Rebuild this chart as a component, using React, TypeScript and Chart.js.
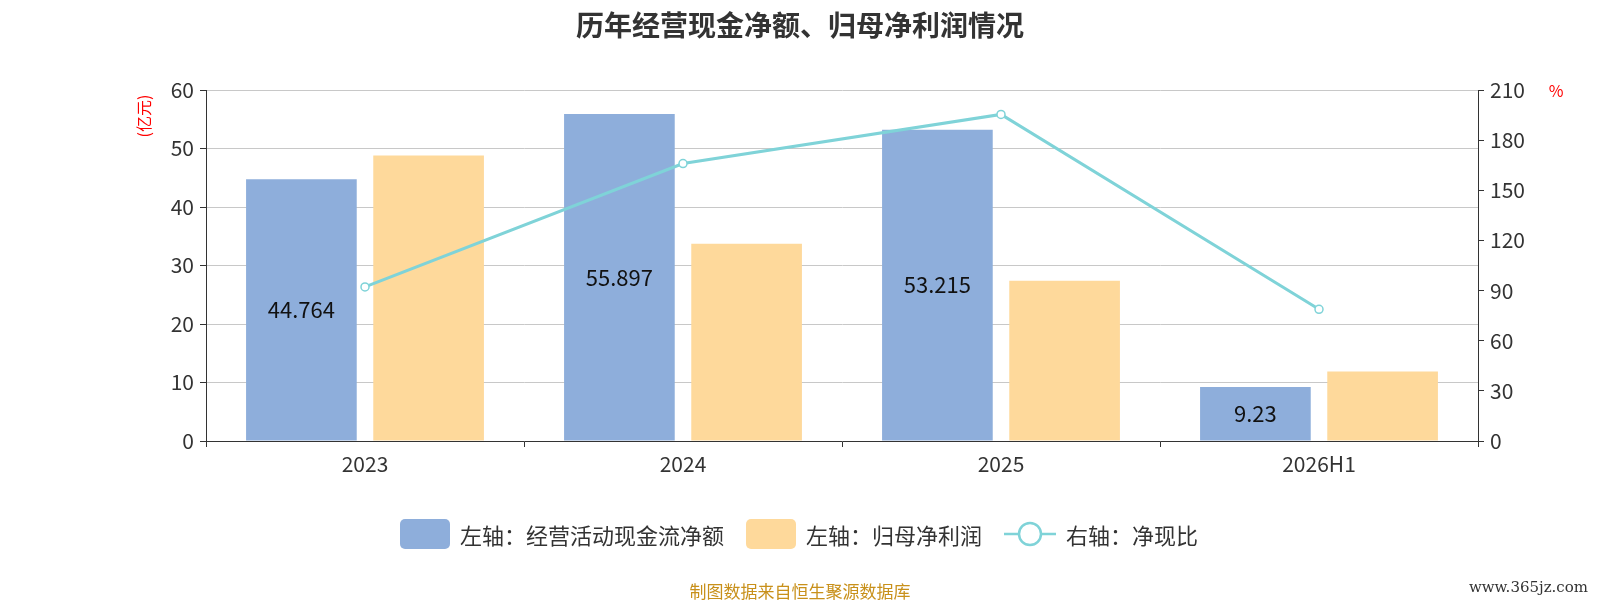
import React, { useEffect, useRef } from "react";
import { Chart, registerables } from "chart.js";
Chart.register(...registerables);

const categories = ["2023", "2024", "2025", "2026H1"];
const cashFlow = [44.764, 55.897, 53.215, 9.23];
const netProfit = [48.8, 33.7, 27.4, 11.9];
const ratio = [92.2, 166, 195.4, 78.8];
const leftTicks = [0, 10, 20, 30, 40, 50, 60];
const rightTicks = [0, 30, 60, 90, 120, 150, 180, 210];

const FONT = "'Noto Sans CJK SC', 'Noto Sans', sans-serif";
const BLUE = "#8eaedb";
const ORANGE = "#fed99b";
const TEAL = "#7fd3d8";

export default function App() {
  const ref = useRef<HTMLCanvasElement>(null);
  useEffect(() => {
    const labelsPlugin = {
      id: "extras",
      afterDatasetsDraw(chart: any) {
        const ctx = chart.ctx;
        const meta = chart.getDatasetMeta(0);
        ctx.save();
        ctx.font = `22px ${FONT}`;
        ctx.fillStyle = "#111";
        ctx.textAlign = "center";
        ctx.textBaseline = "middle";
        meta.data.forEach((b: any, i: number) => {
          ctx.fillText(String(cashFlow[i]), b.x, (b.y + b.base) / 2);
        });
        ctx.fillStyle = "red";
        ctx.font = `16px ${FONT}`;
        ctx.fillText("%", 1556, 91);
        ctx.translate(144, 116);
        ctx.rotate(-Math.PI / 2);
        ctx.fillText("(亿元)", 0, 0);
        ctx.restore();
      },
    };
    const chart = new Chart(ref.current!, {
      type: "bar",
      data: {
        labels: categories,
        datasets: [
          { type: "bar", data: cashFlow, backgroundColor: BLUE, yAxisID: "y", order: 2 },
          { type: "bar", data: netProfit, backgroundColor: ORANGE, yAxisID: "y", order: 2 },
          {
            type: "line", data: ratio, yAxisID: "y1", borderColor: TEAL, borderWidth: 3,
            pointBackgroundColor: "#fff", pointBorderColor: TEAL, pointBorderWidth: 1.5,
            pointRadius: 4, order: 1,
          } as any,
        ],
      },
      plugins: [labelsPlugin],
      options: {
        animation: false,
        responsive: false,
        layout: { padding: { top: 90, left: 0, right: 0, bottom: 0 } },
        datasets: { bar: { categoryPercentage: 0.8, barPercentage: 0.87 } } as any,
        plugins: { legend: { display: false }, tooltip: { enabled: false } },
        scales: {
          x: {
            offset: true,
            grid: { display: true, drawOnChartArea: false, offset: true, color: "#333", tickLength: 6 },
            border: { color: "#333" },
            ticks: { color: "#333", font: { size: 21, family: FONT }, padding: 4 },
            afterFit: (s: any) => { s.height = 159; },
          },
          y: {
            position: "left", min: 0, max: 60,
            afterBuildTicks: (s: any) => { s.ticks = leftTicks.map((v) => ({ value: v })); },
            grid: { color: "#c8c8c8", tickLength: 6, tickColor: "#333" },
            border: { color: "#333" },
            ticks: { color: "#333", font: { size: 21, family: FONT }, padding: 6 },
            afterFit: (s: any) => { s.width = 206; },
          },
          y1: {
            position: "right", min: 0, max: 210,
            afterBuildTicks: (s: any) => { s.ticks = rightTicks.map((v) => ({ value: v })); },
            grid: { drawOnChartArea: false, tickLength: 6, color: "#333" },
            border: { color: "#333" },
            ticks: { color: "#333", font: { size: 21, family: FONT }, padding: 6 },
            afterFit: (s: any) => { s.width = 122; },
          },
        },
      },
    });
    return () => chart.destroy();
  }, []);

  const item = (swatch: React.ReactNode, text: string) => (
    <div style={{ display: "flex", alignItems: "center", marginRight: 22 }}>
      {swatch}
      <span style={{ marginLeft: 10 }}>{text}</span>
    </div>
  );

  return (
    <div style={{ position: "fixed", left: 0, top: 0, width: 1600, height: 600, background: "#fff", fontFamily: FONT }}>
      <canvas ref={ref} width={1600} height={600} style={{ position: "absolute", left: 0, top: 0 }} />
      <div style={{ position: "absolute", top: 4, width: 1600, textAlign: "center", fontSize: 28, fontWeight: "bold", color: "#333" }}>
        历年经营现金净额、归母净利润情况
      </div>
      <div style={{ position: "absolute", top: 518, left: 0, width: 1600, display: "flex", justifyContent: "center", fontSize: 22, color: "#333", paddingLeft: 20, boxSizing: "border-box" }}>
        {item(<div style={{ width: 50, height: 30, background: BLUE, borderRadius: 5 }} />, "左轴：经营活动现金流净额")}
        {item(<div style={{ width: 50, height: 30, background: ORANGE, borderRadius: 5 }} />, "左轴：归母净利润")}
        {item(
          <svg width="52" height="30"><line x1="0" y1="15" x2="52" y2="15" stroke={TEAL} strokeWidth="2.5" /><circle cx="26" cy="15" r="11" fill="#fff" stroke={TEAL} strokeWidth="2.5" /></svg>,
          "右轴：净现比"
        )}
      </div>
      <div style={{ position: "absolute", top: 578, width: 1600, textAlign: "center", fontSize: 17, color: "#c8901a" }}>
        制图数据来自恒生聚源数据库
      </div>
      <div style={{ position: "absolute", top: 578, right: 12, fontSize: 15, color: "#333", fontFamily: "'DejaVu Serif', serif" }}>
        www.365jz.com
      </div>
    </div>
  );
}
